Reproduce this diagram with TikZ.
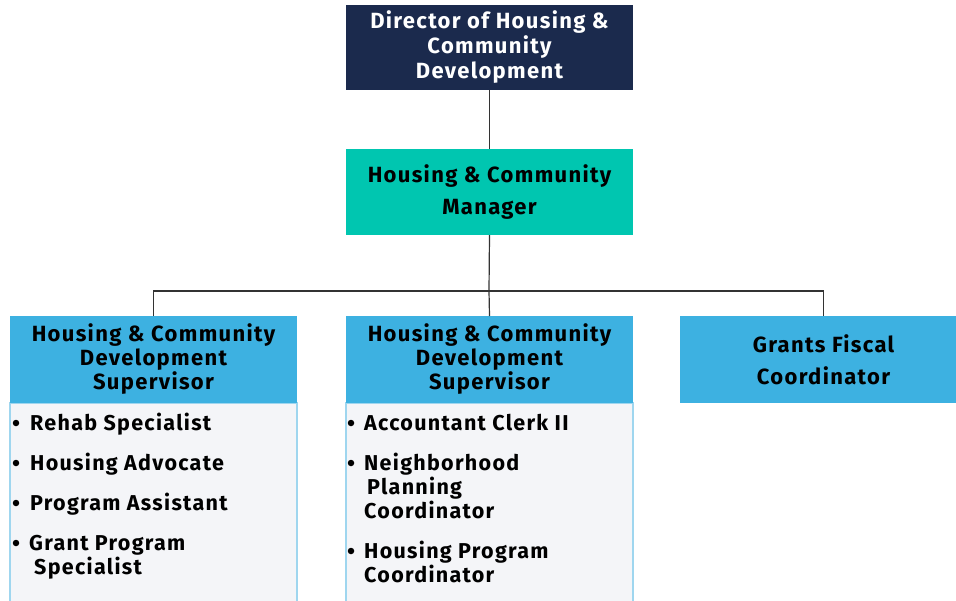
\documentclass[tikz,border=0pt]{standalone}
\usepackage{fontspec}
\setmainfont[LetterSpace=6]{Fira Sans}
\definecolor{navy}{HTML}{1B2A4D}
\definecolor{teal}{HTML}{00C6B0}
\definecolor{hdrblue}{HTML}{3DB1E1}
\definecolor{bodygray}{HTML}{F4F5F8}
\definecolor{bodyline}{HTML}{9FD6EF}
\definecolor{conn}{HTML}{333333}
\tikzset{
  box/.style={inner sep=0pt, outer sep=0pt, anchor=north west, align=center,
    minimum width=287pt, font=\bfseries\fontsize{22}{24}\selectfont},
  bodybox/.style={draw=bodyline, line width=1.5pt, fill=bodygray, inner sep=0pt, outer sep=0pt,
    anchor=north west, minimum width=287pt, minimum height=210pt},
  item/.style={inner sep=0pt, anchor=base west, align=left, font=\bfseries\fontsize{21.5}{24}\selectfont},
  dot/.style={circle, fill=black, inner sep=0pt, minimum size=6.5pt},
  wire/.style={draw=conn, line width=1.2pt}
}
\begin{document}
\begin{tikzpicture}[x=1pt,y=-1pt]
\useasboundingbox (0,0) rectangle (956,600);
% top boxes
\node[box, fill=navy, text=white, minimum height=85pt] (dir) at (346,5)
  {Director of Housing \&\\[1pt] Community\\[1pt] Development};
\node[box, fill=teal, minimum height=86pt, font=\bfseries\fontsize{22}{32}\selectfont] (mgr) at (346,149)
  {Housing \& Community\\ Manager};
% bodies
\node[bodybox] (body1) at (10,403) {};
\node[bodybox] (body2) at (346,403) {};
% headers
\node[box, fill=hdrblue, minimum height=87pt] (sup1) at (10,316)
  {Housing \& Community\\ Development\\ Supervisor};
\node[box, fill=hdrblue, minimum height=87pt] (sup2) at (346,316)
  {Housing \& Community\\ Development\\ Supervisor};
\node[box, fill=hdrblue, minimum height=87pt, font=\bfseries\fontsize{22}{32}\selectfont] (gfc) at (680,316)
  {Grants Fiscal\\ Coordinator};
% connectors
\coordinate (bus) at (489,291);
\draw[wire] (dir.south) -- (mgr.north);
\draw[wire] (mgr.south) -- (bus);
\draw[wire] (sup1.north) |- (bus) -| (gfc.north);
\draw[wire] (bus) -- (sup2.north);
% left list
\node[dot] (b11) at (16,423) {};
\node[item] (i11) at (30,430) {Rehab Specialist};
\node[dot] (b12) at (16,463) {};
\node[item] (i12) at (30,470) {Housing Advocate};
\node[dot] (b13) at (16,503) {};
\node[item] (i13) at (30,510) {Program Assistant};
\node[dot] (b14) at (16,543) {};
\node[item] (i14) at (29,574) {Grant Program\\\hspace*{5pt}Specialist};
% middle list
\node[dot] (b21) at (351,423) {};
\node[item] (i21) at (364,430) {Accountant Clerk II};
\node[dot] (b22) at (351,463) {};
\node[item] (i22) at (364,518) {Neighborhood\\\hspace*{3pt}Planning\\Coordinator};
\node[dot] (b23) at (351,551) {};
\node[item] (i23) at (364,582) {Housing Program\\Coordinator};
\end{tikzpicture}
\end{document}
